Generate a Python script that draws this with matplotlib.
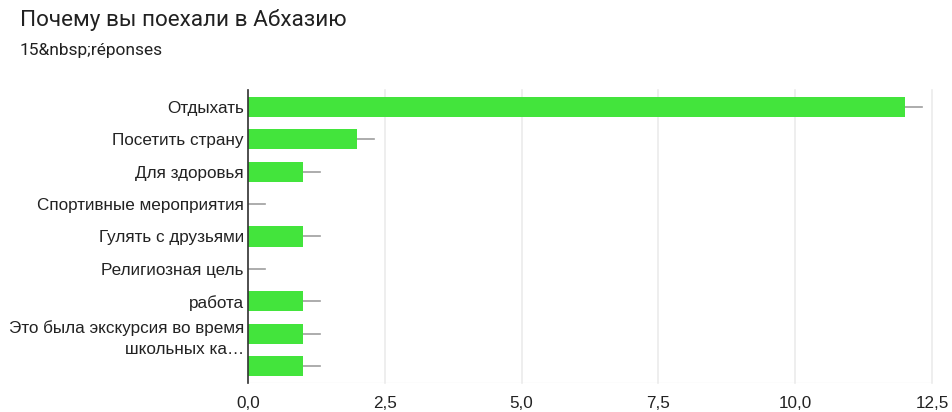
import matplotlib
matplotlib.use("Agg")
import matplotlib.pyplot as plt
from matplotlib.ticker import FixedLocator

plt.rcParams['font.family'] = ['Roboto', 'DejaVu Sans']
tickfont = ['Liberation Sans', 'DejaVu Sans']

title = "Почему вы поехали в Абхазию"
subtitle = "15&nbsp;réponses"
categories = ["Отдыхать", "Посетить страну", "Для здоровья", "Спортивные мероприятия",
              "Гулять с друзьями", "Религиозная цель", "работа",
              "Это была экскурсия во время\nшкольных ка…", ""]
values = [12, 2, 1, 0, 1, 0, 1, 1, 1]
xticks = [0, 2.5, 5, 7.5, 10, 12.5]
xticklabels = ["0,0", "2,5", "5,0", "7,5", "10,0", "12,5"]
whisker = 0.31

fig = plt.figure(figsize=(9.52, 4.12), dpi=100)
ax = fig.add_axes([248/952, 1-383/412, (932-248)/952, (383-90)/412])

ypos = list(range(len(categories)))
ax.barh(ypos, values, height=0.62, color='#43e43c', zorder=3)
for y, v in zip(ypos, values):
    ax.plot([v, v + whisker], [y, y], color='#9e9e9e', lw=1.2, zorder=2)

ax.set_xlim(0, 12.5)
ax.set_ylim(len(categories) - 0.48, -0.52)
ax.set_yticks(ypos)
ax.set_yticklabels(categories, fontsize=12.3, color='#222222', linespacing=1.5, family=tickfont)
ax.xaxis.set_major_locator(FixedLocator(xticks))
ax.set_xticklabels(xticklabels, fontsize=12.3, color='#222222', family=tickfont)
ax.tick_params(axis='both', length=0)
ax.tick_params(axis='x', pad=9)
ax.tick_params(axis='y', pad=3)
ax.grid(axis='x', color='#ebebeb', lw=1.2, zorder=0, clip_on=False)
for s in ['top', 'right', 'bottom']:
    ax.spines[s].set_visible(False)
ax.spines['left'].set_color('#333333')
ax.spines['left'].set_linewidth(1.2)
ax.spines['left'].set_zorder(4)
ax.axhline(len(categories) - 0.48, color='#f0f0f0', lw=1, zorder=0)

fig.text(20/952, 1-20/412, title, fontsize=16.2, color='#212121', va='center', ha='left')
fig.text(20/952, 1-50/412, subtitle, fontsize=12.5, color='#212121', va='center', ha='left')

fig.savefig("out.png", dpi=100)
